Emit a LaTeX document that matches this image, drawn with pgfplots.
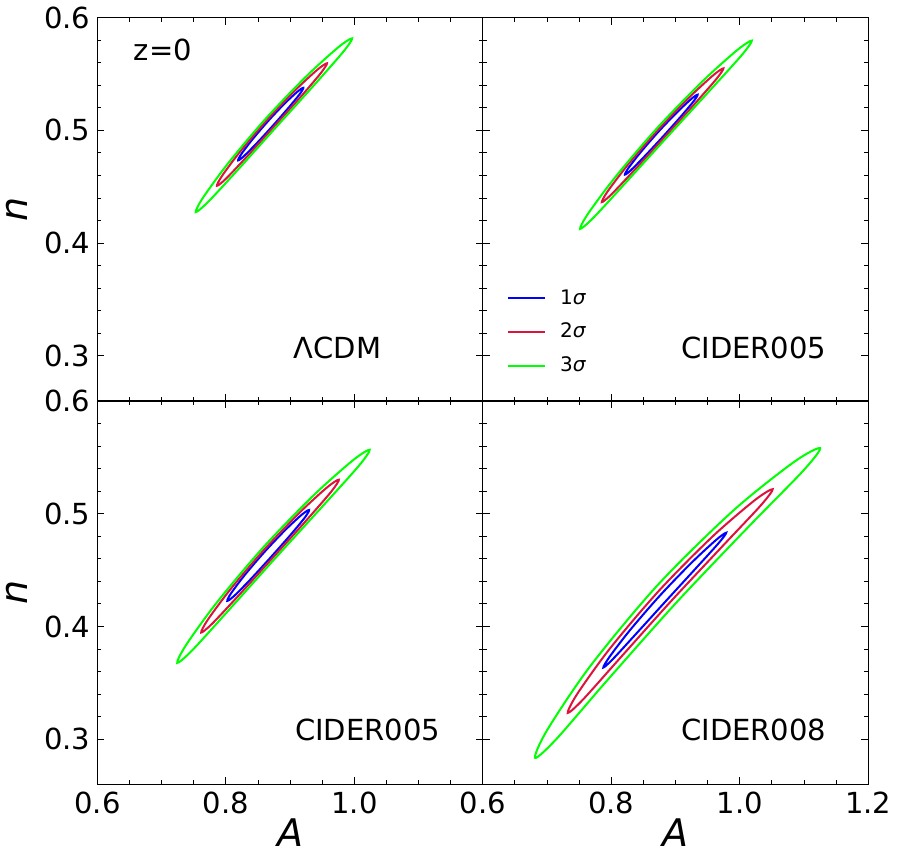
\documentclass[border=0pt]{standalone}
\usepackage{fontspec}
\setmainfont{DejaVu Sans}
\usepackage{pgfplots}
\pgfplotsset{compat=1.18}
\usepgfplotslibrary{groupplots}

\definecolor{sigOne}{HTML}{0000FF}
\definecolor{sigTwo}{HTML}{DC143C}
\definecolor{sigThree}{HTML}{00FF00}

\tikzset{tag/.style={font=\fontsize{14.5}{14.5}\selectfont}}
\pgfplotsset{
  panel/.style={
    scale only axis, width=192.5pt, height=191.5pt,
    xmin=0.6, xmax=1.2, ymin=0.26, ymax=0.6,
    xtick={0.6,0.8,1.0,1.2}, ytick={0.3,0.4,0.5,0.6},
    minor x tick num=3, minor y tick num=4,
    tick align=inside, xtick pos=both, ytick pos=both,
    major tick length=3.5pt, minor tick length=2pt,
    axis line style={line width=0.6pt},
    tick style={line width=0.5pt, black},
    tick label style={font=\fontsize{14.5}{14.5}\selectfont},
    label style={font=\fontsize{19}{19}\selectfont},
    ylabel style={at={(rel axis cs:-0.208,0.5)}, anchor=center},
    xlabel style={at={(rel axis cs:0.5,-0.125)}, anchor=center},
  },
  s1/.style={sigOne, line width=1pt, smooth cycle},
  s2/.style={sigTwo, line width=1pt, smooth cycle},
  s3/.style={sigThree, line width=1pt, smooth cycle},
}

\begin{document}
\begin{tikzpicture}
\begin{groupplot}[group style={group size=2 by 2, horizontal sep=0pt, vertical sep=0pt}, panel]

% LCDM
\nextgroupplot[xticklabels={}, yticklabels={0.3,0.4,0.5,0.6}, ylabel={\textit{n}}]
\addplot[s1] coordinates {(0.8652,0.5080) (0.8405,0.4915) (0.8237,0.4788) (0.8190,0.4734) (0.8275,0.4769) (0.8471,0.4881) (0.8728,0.5040) (0.8978,0.5203) (0.9154,0.5326) (0.9205,0.5378) (0.9116,0.5345) (0.8912,0.5237)};
\addplot[s2] coordinates {(0.8639,0.5092) (0.8224,0.4814) (0.7942,0.4599) (0.7860,0.4509) (0.7997,0.4570) (0.8320,0.4764) (0.8750,0.5035) (0.9177,0.5307) (0.9481,0.5511) (0.9573,0.5595) (0.9425,0.5539) (0.9081,0.5357)};
\addplot[s3] coordinates {(0.8626,0.5108) (0.8039,0.4712) (0.7644,0.4404) (0.7530,0.4276) (0.7721,0.4365) (0.8173,0.4643) (0.8781,0.5029) (0.9390,0.5413) (0.9829,0.5699) (0.9964,0.5816) (0.9751,0.5738) (0.9256,0.5482)};
\node[tag] at (rel axis cs:0.170,0.916) {z=0};
\node[tag] at (rel axis cs:0.623,0.139) {ΛCDM};

% CIDER005, top
\nextgroupplot[xticklabels={}, yticklabels={},
  legend style={at={(rel axis cs:0.062,0.057)}, anchor=south west, draw=none, fill=none,
    inner sep=0pt, row sep=4pt, column sep=5pt, font=\fontsize{10}{10}\selectfont},
  legend cell align=left,
  legend image code/.code={\draw[#1, sharp plot] (0pt,0pt) -- (18.5pt,0pt);}]
\addplot[s1] coordinates {(0.8731,0.4987) (0.8456,0.4806) (0.8267,0.4667) (0.8212,0.4608) (0.8305,0.4647) (0.8521,0.4772) (0.8807,0.4947) (0.9087,0.5126) (0.9285,0.5261) (0.9344,0.5317) (0.9247,0.5280) (0.9022,0.5160)};
\addplot[s2] coordinates {(0.8718,0.4999) (0.8258,0.4695) (0.7945,0.4461) (0.7852,0.4364) (0.8000,0.4432) (0.8354,0.4645) (0.8829,0.4941) (0.9301,0.5238) (0.9640,0.5459) (0.9745,0.5550) (0.9584,0.5488) (0.9205,0.5288)};
\addplot[s3] coordinates {(0.8724,0.5027) (0.8079,0.4598) (0.7642,0.4265) (0.7514,0.4127) (0.7720,0.4225) (0.8212,0.4529) (0.8878,0.4947) (0.9548,0.5363) (1.0034,0.5670) (1.0187,0.5796) (0.9957,0.5711) (0.9415,0.5433)};
\legend{1\textit{σ}, 2\textit{σ}, 3\textit{σ}}
\node[tag] at (rel axis cs:0.703,0.139) {CIDER005};

% CIDER005, bottom
\nextgroupplot[xticklabels={0.6,0.8,1.0,{}}, yticklabels={0.3,0.4,0.5,0.6},
  ylabel={\textit{n}}, xlabel={\textit{A}}]
\addplot[s1] coordinates {(0.8599,0.4661) (0.8290,0.4455) (0.8080,0.4295) (0.8021,0.4228) (0.8127,0.4271) (0.8372,0.4412) (0.8694,0.4612) (0.9009,0.4815) (0.9231,0.4969) (0.9295,0.5034) (0.9183,0.4993) (0.8927,0.4858)};
\addplot[s2] coordinates {(0.8586,0.4676) (0.8068,0.4329) (0.7717,0.4060) (0.7615,0.3947) (0.7785,0.4025) (0.8185,0.4268) (0.8722,0.4606) (0.9257,0.4945) (0.9640,0.5197) (0.9758,0.5302) (0.9572,0.5233) (0.9139,0.5006)};
\addplot[s3] coordinates {(0.8583,0.4703) (0.7862,0.4216) (0.7380,0.3837) (0.7242,0.3678) (0.7473,0.3788) (0.8024,0.4133) (0.8769,0.4607) (0.9521,0.5077) (1.0067,0.5424) (1.0237,0.5567) (0.9974,0.5473) (0.9360,0.5161)};
\node[tag] at (rel axis cs:0.701,0.143) {CIDER005};

% CIDER008
\nextgroupplot[xticklabels={0.6,0.8,1.0,1.2}, yticklabels={}, xlabel={\textit{A}}]
\addplot[s1] coordinates {(0.8757,0.4275) (0.8292,0.3969) (0.7974,0.3733) (0.7876,0.3637) (0.8020,0.3709) (0.8372,0.3927) (0.8849,0.4226) (0.9328,0.4524) (0.9677,0.4744) (0.9789,0.4832) (0.9631,0.4768) (0.9249,0.4566)};
\addplot[s2] coordinates {(0.8742,0.4318) (0.7978,0.3805) (0.7469,0.3402) (0.7322,0.3234) (0.7561,0.3354) (0.8137,0.3721) (0.8925,0.4222) (0.9731,0.4713) (1.0323,0.5072) (1.0512,0.5218) (1.0232,0.5120) (0.9573,0.4797)};
\addplot[s3] coordinates {(0.8725,0.4370) (0.7676,0.3652) (0.6998,0.3079) (0.6814,0.2836) (0.7144,0.3002) (0.7930,0.3519) (0.9018,0.4216) (1.0148,0.4892) (1.0986,0.5381) (1.1250,0.5582) (1.0840,0.5458) (0.9894,0.5026)};
\node[tag] at (rel axis cs:0.703,0.143) {CIDER008};

\end{groupplot}
\end{tikzpicture}
\end{document}
